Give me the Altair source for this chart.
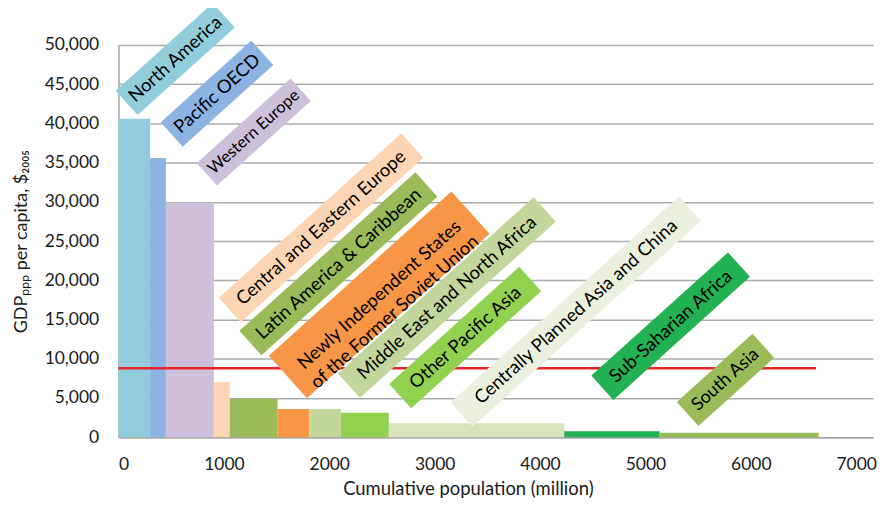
import altair as alt
import pandas as pd
import numpy as np

# ---------------- data ----------------
regions = ["North America", "Pacific OECD", "Western Europe", "Central and Eastern Europe",
           "Latin America & Caribbean", "Former Soviet Union", "Middle East and North Africa",
           "Other Pacific Asia", "Centrally Planned Asia and China", "Sub-Saharan Africa", "South Asia"]
population = [300, 150, 455, 150, 455, 300, 300, 455, 1665, 905, 1510]          # million
gdp_per_capita = [40600, 35600, 29900, 7000, 4900, 3600, 3600, 3100, 1780, 760, 570]
bar_colors = ["#92CDDC", "#8DB3E2", "#CCC0DA", "#FCD5B5", "#9BBB59", "#F79646",
              "#C3D69B", "#92D050", "#D7E4BD", "#22B153", "#9BBB59"]

label_texts = ["North America", "Pacific OECD", "Western Europe", "Central and Eastern Europe",
               "Latin America & Caribbean", "Newly Independent States\nof the Former Soviet Union",
               "Middle East and North Africa", "Other Pacific Asia", "Centrally Planned Asia  and China",
               "Sub-Saharian Africa", "South Asia"]
label_x = [538, 935, 1284, 1922, 2087, 2474, 3116, 3290, 4340, 5240, 5760]
label_y = [48200, 43800, 38900, 26700, 22100, 18150, 17800, 12700, 16000, 14150, 7300]
label_colors = ["#92CDDC", "#8DB3E2", "#CCC0DA", "#FCD5B5", "#9BBB59", "#F79646",
                "#C3D69B", "#92D050", "#EBF1DE", "#22B153", "#9BBB59"]
label_font_sizes = [18.5, 18.5, 16.5, 18.5, 18.5, 18.5, 18.5, 18.5, 18.5, 18.5, 18]

world_average = 8800
line_end = 6620

x_ticks = list(range(0, 8000, 1000))
y_ticks = list(range(0, 55000, 5000))

FONT = "Lato"
ANGLE = 318

# ---------------- tables ----------------
edges = np.cumsum([0] + population)
bars_df = pd.DataFrame({
    "region": regions,
    "x": edges[:-1],
    "x2": edges[1:],
    "y": gdp_per_capita,
    "color": bar_colors,
})


def box_path(text, fs):
    lines = text.split("\n")
    longest = max(len(s) for s in lines)
    L = longest * fs * 0.48 + 16
    T = len(lines) * fs * 1.3 + 9
    return f"M{-L/2:.1f},{-T/2:.1f}L{L/2:.1f},{-T/2:.1f}L{L/2:.1f},{T/2:.1f}L{-L/2:.1f},{T/2:.1f}Z"


labels_df = pd.DataFrame({
    "text": label_texts,
    "x": label_x,
    "y": label_y,
    "fill": label_colors,
    "fs": label_font_sizes,
    "path": [box_path(t, f) for t, f in zip(label_texts, label_font_sizes)],
})

line_df = pd.DataFrame({"x": [0], "x2": [line_end], "y": [world_average]})

# ---------------- scales / axes ----------------
x_scale = alt.Scale(domain=[0, 7160], nice=False, zero=False)
y_scale = alt.Scale(domain=[0, 50000], nice=False)

x_axis = alt.Axis(values=x_ticks, format="d", grid=False, ticks=False,
                  labelFont=FONT, labelFontSize=17.5, labelColor="#1a1a1a", labelPadding=18,
                  title="Cumulative population (million)", titleFont=FONT, titleFontSize=18.5,
                  titleFontWeight="normal", titleColor="#1a1a1a", titlePadding=7,
                  titleX=351, titleAlign="center",
                  domainColor="#A6A6A6", domainWidth=1.5)
y_axis = alt.Axis(values=y_ticks, format=",d", grid=True, gridColor="#ABABAB", gridWidth=1.5,
                  ticks=False, labelFont=FONT, labelFontSize=17.5, labelColor="#1a1a1a",
                  labelPadding=20,
                  title="GDPₚₚₚ per capita, $₂₀₀₅", titleFont=FONT, titleFontSize=18,
                  titleFontWeight="normal", titleColor="#1a1a1a", titlePadding=14,
                  domainColor="#A6A6A6", domainWidth=1.5)


def X(field="x"):
    return alt.X(f"{field}:Q", scale=x_scale, axis=x_axis)


def Y(field="y"):
    return alt.Y(f"{field}:Q", scale=y_scale, axis=y_axis)


bars = alt.Chart(bars_df).mark_rect(strokeWidth=0).encode(
    x=X(),
    x2="x2:Q",
    y=Y(),
    y2=alt.datum(0),
    color=alt.Color("color:N", scale=None),
)

rule = alt.Chart(line_df).mark_rule(color="#E5242B", strokeWidth=2.5).encode(
    x=X(), x2="x2:Q", y=Y()
)

boxes = alt.Chart(labels_df).mark_point(filled=True, opacity=1, size=4, strokeWidth=0,
                                        angle=ANGLE).encode(
    x=X(),
    y=Y(),
    shape=alt.Shape("path:N", scale=None),
    color=alt.Color("fill:N", scale=None),
)

texts = alt.Chart(labels_df).mark_text(angle=ANGLE, align="center", baseline="middle",
                                       font=FONT, lineBreak="\n", color="#000000",
                                       lineHeight=23).encode(
    x=X(),
    y=Y(),
    text="text:N",
    size=alt.Size("fs:Q", scale=None),
)

chart = alt.layer(bars, rule, boxes, texts).properties(
    width=758,
    height=394,
    padding={"left": 111, "top": 36, "right": 5, "bottom": 66},
    autosize=alt.AutoSizeParams(type="none"),
    background="white",
).configure_view(strokeWidth=0)

chart.save("out.html", embed_options={"renderer": "svg", "actions": False})
